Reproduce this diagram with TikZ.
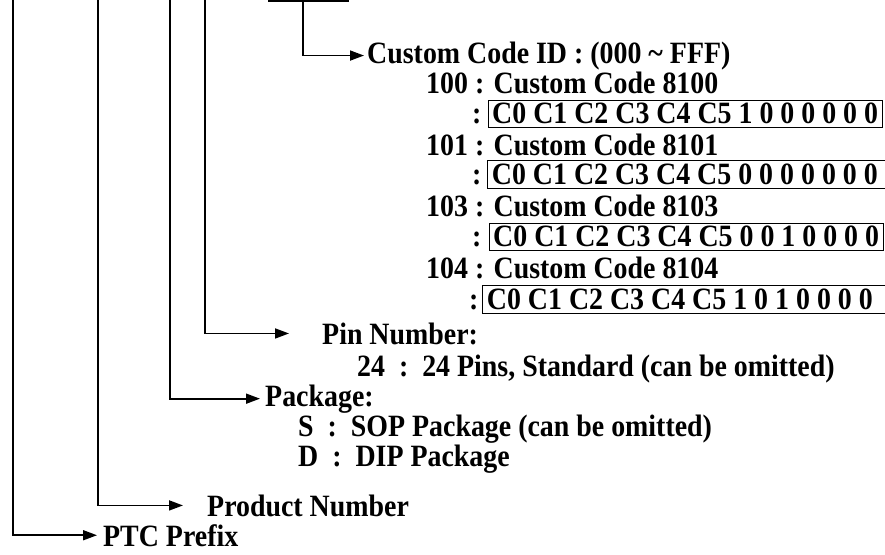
\documentclass[tikz,border=0pt]{standalone}
\usepackage{fontspec}
\setmainfont{Liberation Serif}[FakeStretch=0.9]
\usetikzlibrary{arrows.meta}
\tikzset{
 lead/.style={line width=1.7pt},
 leadarrow/.style={lead,-{Triangle[length=14pt,width=10pt]}},
 txt/.style={anchor=base west,inner sep=0,font=\fontsize{31}{34}\selectfont\bfseries},
 boxline/.style={line width=1pt},
 openbox/.style={txt,inner xsep=4pt,inner ysep=2pt,text height=21pt,text depth=2pt},
 codebox/.style={openbox,draw,boxline}
}
\begin{document}
\begin{tikzpicture}[x=1pt,y=-1pt]
\path[use as bounding box] (0,0) rectangle (885,554);
% custom code block
\node[txt] (cid) at (367,63) {Custom Code ID : (000 \textasciitilde\ FFF)};
\node[txt] (id100) at (426,93) {100 : Custom Code 8100};
\node[txt] (col100) at (472,123) {:};
\node[codebox] (box100) at ([xshift=6pt]col100.base east) {C0 C1 C2 C3 C4 C5 1 0 0 0 0 0 0};
\node[txt] (id101) at (426,155) {101 : Custom Code 8101};
\node[txt] (col101) at (472,184) {:};
\node[openbox] (box101) at ([xshift=6pt]col101.base east) {C0 C1 C2 C3 C4 C5 0 0 0 0 0 0 0};
\draw[boxline] ([xshift=12pt]box101.north east) -| (box101.south west) -- ([xshift=12pt]box101.south east);
\node[txt] (id103) at (426,216) {103 : Custom Code 8103};
\node[txt] (col103) at (472,246) {:};
\node[codebox] (box103) at ([xshift=7pt]col103.base east) {C0 C1 C2 C3 C4 C5 0 0 1 0 0 0 0};
\node[txt] (id104) at (426,278) {104 : Custom Code 8104};
\node[txt] (col104) at (469,309) {:};
\node[openbox] (box104) at ([xshift=4pt]col104.base east) {C0 C1 C2 C3 C4 C5 1 0 1 0 0 0 0};
\draw[boxline] ([xshift=12pt]box104.north east) -| (box104.south west) -- ([xshift=12pt]box104.south east);
% pin number and package
\node[txt] (pin) at (322,344) {Pin Number:};
\node[txt] (pin24) at (357,376) {24~~:~~24 Pins, Standard (can be omitted)};
\node[txt] (pkg) at (265,406) {Package:};
\node[txt] (pkgS) at (298,436) {S~~:~~SOP Package (can be omitted)};
\node[txt] (pkgD) at (298,466) {D~~:~~DIP Package};
\node[txt] (prod) at (207,516) {Product Number};
\node[txt] (ptc) at (103,546) {PTC Prefix};
% leads
\coordinate (top1) at (13,0);
\coordinate (top2) at (98,0);
\coordinate (top3) at (170,0);
\coordinate (top4) at (205,0);
\coordinate (barW) at (268,1);
\coordinate (barE) at (349,1);
\coordinate (barM) at (303,1);
\draw[lead] (barW) -- (barE);
\draw[leadarrow] (barM) |- ([xshift=-3pt]cid.west);
\draw[leadarrow] (top4) |- ([xshift=-33pt]pin.west);
\draw[leadarrow] (top3) |- ([xshift=-5pt]pkg.west);
\draw[leadarrow] (top2) |- ([xshift=-24pt]prod.west);
\draw[leadarrow] (top1) |- ([xshift=-6pt]ptc.west);
\end{tikzpicture}
\end{document}
